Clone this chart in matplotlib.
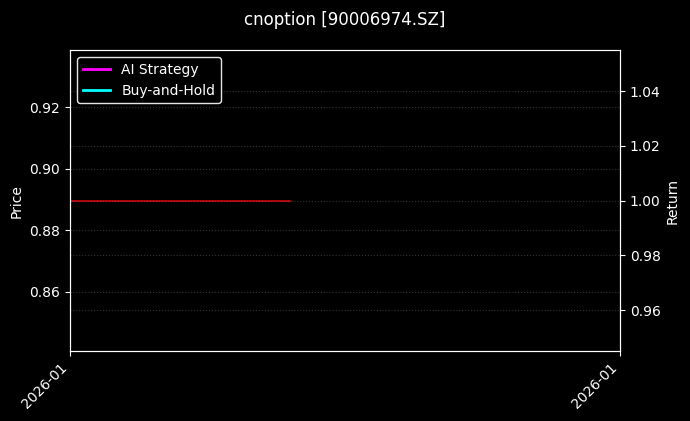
import numpy as np
import pandas as pd
import matplotlib
matplotlib.use("Agg")
import matplotlib.pyplot as plt
import matplotlib.dates as mdates

# -*- data -*-
title = "cnoption [90006974.SZ]"
price_dates = pd.to_datetime(["2026-01-05", "2026-01-07"])
price_values = [0.8896, 0.8896]
return_dates = pd.to_datetime(["2026-01-05"])
ai_returns = [1.0]
bh_returns = [1.0]
x_range = pd.to_datetime(["2026-01-05", "2026-01-10"])

# -*- plot -*-
plt.style.use("dark_background")
fig, ax1 = plt.subplots(figsize=(6.9, 4.21), dpi=100)
fig.subplots_adjust(left=0.1015, right=0.8985, top=0.881, bottom=0.166)

ax1.plot(price_dates, price_values, color="red", linewidth=1.1, alpha=0.9)
ax1.set_ylabel("Price")
ax1.grid(True, linestyle=":", color="gray", alpha=0.4, linewidth=0.8)

ax2 = ax1.twinx()
ax2.plot(return_dates, ai_returns, color="magenta", linewidth=2, label="AI Strategy")
ax2.plot(return_dates, bh_returns, color="cyan", linewidth=2, label="Buy-and-Hold")
ax2.set_ylabel("Return")
ax2.grid(True, linestyle=":", color="gray", alpha=0.4, linewidth=0.8)

ax1.set_xlim(x_range[0], x_range[1])
ax1.set_xticks(x_range)
ax1.xaxis.set_major_formatter(mdates.DateFormatter("%Y-%m"))
plt.setp(ax1.get_xticklabels(), rotation=45, ha="right")

leg = ax2.legend(loc="upper left", facecolor="black", edgecolor="white", framealpha=0.9)
fig.suptitle(title, fontsize=12, y=0.975)

plt.savefig("out.png", dpi=100)
